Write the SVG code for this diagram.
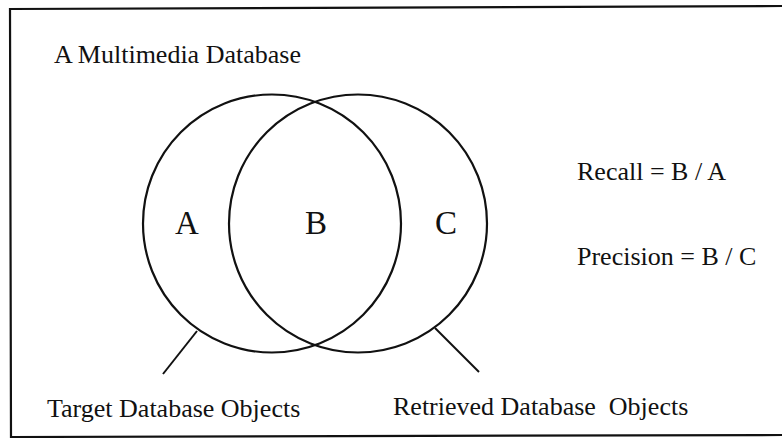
<svg xmlns="http://www.w3.org/2000/svg" width="782" height="438" viewBox="0 0 782 438">
  <style>
    .lbl { font-family: "Liberation Serif", "Times New Roman", serif; font-size: 26px; fill: #111; }
    .big { font-family: "Liberation Serif", "Times New Roman", serif; font-size: 33px; fill: #111; }
    .set { fill: none; stroke: #111; stroke-width: 2.2; }
    .lead { stroke: #111; stroke-width: 2; fill: none; }
  </style>
  <rect width="782" height="438" fill="#fff"/>

  <!-- outer frame (open on the right) -->
  <polyline points="782,6 10,9 11,437 782,435" fill="none" stroke="#111" stroke-width="2.2"/>

  <text class="lbl" x="54" y="63">A Multimedia Database</text>

  <g id="target-set">
    <circle class="set" cx="272" cy="223.5" r="129"/>
    <text class="big" x="175" y="234">A</text>
  </g>

  <g id="retrieved-set">
    <circle class="set" cx="358" cy="223.5" r="129"/>
    <text class="big" x="435" y="234">C</text>
  </g>

  <g id="intersection">
    <text class="big" x="305" y="234">B</text>
  </g>

  <g id="connectors">
    <line class="lead" x1="197" y1="331" x2="163" y2="374"/>
    <line class="lead" x1="435" y1="328" x2="479" y2="372"/>
  </g>

  <g id="target-label">
    <text class="lbl" x="47" y="417">Target Database Objects</text>
  </g>
  <g id="retrieved-label">
    <text class="lbl" x="393" y="415" xml:space="preserve">Retrieved Database  Objects</text>
  </g>

  <g id="formulas">
    <text class="lbl" x="577" y="180">Recall = B / A</text>
    <text class="lbl" x="577" y="265">Precision = B / C</text>
  </g>
</svg>
